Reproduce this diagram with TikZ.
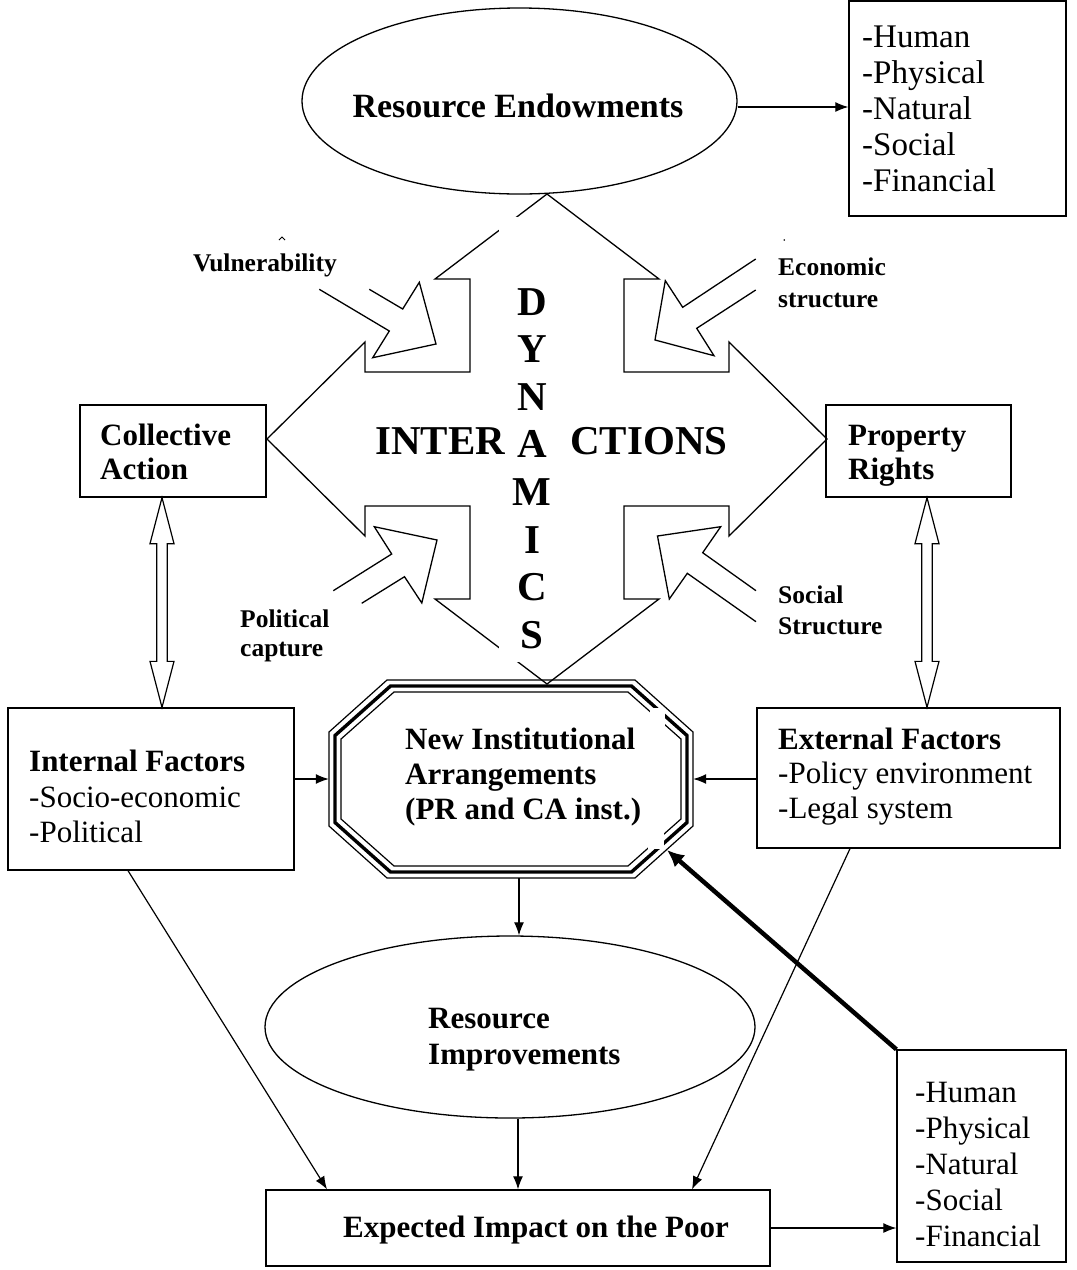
\documentclass[tikz,border=0pt]{standalone}
\usepackage{fontspec}
\setmainfont{Liberation Serif}
\usetikzlibrary{shapes.geometric,arrows.meta,calc}
\begin{document}
\begin{tikzpicture}[x=1pt,y=-1pt,
  ln/.style={line width=1.3pt},
  arr/.style={line width=1.2pt,-{Latex[length=13pt,width=10pt]}},
  box/.style={draw,line width=1.3pt,inner sep=0},
  txt/.style={inner sep=0,anchor=base west,font=\fontsize{31}{36}\selectfont},
  ttxt/.style={inner sep=0,anchor=base west,font=\fontsize{33}{36}\selectfont},
  btxt/.style={inner sep=0,anchor=base west,font=\fontsize{31}{36}\selectfont\bfseries},
  stxt/.style={inner sep=0,anchor=base west,font=\fontsize{25.5}{30}\selectfont\bfseries},
  big/.style={inner sep=0,font=\fontsize{41}{48}\selectfont\bfseries},
  blk/.style={line width=1.3pt,line join=miter},
  hollow/.style={line width=1.2pt,line join=miter,fill=white}
]
\useasboundingbox (0,0) rectangle (1077,1270);

% ---------- top: resource endowments ----------
\node[draw,ellipse,ln,minimum width=435pt,minimum height=186pt,inner sep=0] (re) at (519.5,101) {};
\node[inner sep=0,anchor=base,font=\fontsize{34}{40}\selectfont\bfseries] (ret) at (518,117) {Resource Endowments};
\node[box,minimum width=217pt,minimum height=215pt] (tr) at (957.5,108.5) {};
\node[ttxt] (tr1) at (862,47) {-Human};
\node[ttxt] (tr2) at (862,83) {-Physical};
\node[ttxt] (tr3) at (862,119) {-Natural};
\node[ttxt] (tr4) at (862,155) {-Social};
\node[ttxt] (tr5) at (862,191) {-Financial};
\coordinate (reA) at ([yshift=-6pt]re.east);
\draw[arr] (reA) -- (reA -| tr.west);

% ---------- central cross ----------
\draw[blk] (547,194) -- (659,279) -- (624,279) -- (624,372) -- (729,372) -- (729,342)
  -- (827,439) -- (729,536) -- (729,506) -- (624,506) -- (624,599) -- (659,599)
  -- (547,684) -- (435,599) -- (470,599) -- (470,506) -- (365,506) -- (365,536)
  -- (267,439) -- (365,342) -- (365,372) -- (470,372) -- (470,279) -- (435,279) -- cycle;
\fill[white] (499,217) rectangle (568,662);

% inward block arrows
\draw[blk] (319.3,289.3) -- (389.3,331) -- (372.7,357.7) -- (436,344) -- (419.3,282.3) -- (402.7,309) -- (369.3,289.3);
\draw[blk] (755.7,259) -- (682.7,307.3) -- (665.3,280.7) -- (655,340) -- (714,355.7) -- (696.7,328.3) -- (755.7,290);
\draw[blk] (333.3,590.7) -- (391.7,554) -- (374.3,526.7) -- (437,540) -- (421.8,603) -- (404.5,576.7) -- (361.7,603.3);
\draw[blk] (756,590.7) -- (702.7,552.7) -- (720.7,526.7) -- (657.5,536) -- (669.3,599) -- (687.3,573.3) -- (756,621.7);

% labels of block arrows
\draw[line width=0.8pt] (279,240) -- (282,237) -- (285,240);
\fill (784.3,240) circle (0.9);
\node[stxt] (vul) at (193,271) {Vulnerability};
\node[stxt] (eco1) at (778,275) {Economic};
\node[stxt] (eco2) at (778,307) {structure};
\node[stxt] (pol1) at (240,627) {Political};
\node[stxt] (pol2) at (240,656) {capture};
\node[stxt] (soc1) at (778,603) {Social};
\node[stxt] (soc2) at (778,634) {Structure};

% INTERACTIONS / DYNAMICS
\node[big,anchor=base west] (int1) at (375,454) {INTER};
\node[big,anchor=base west] (int2) at (570,454) {CTIONS};
\foreach \l/\yy [count=\i] in {D/315,Y/362.6,N/410.2,A/457.8,M/505.4,I/553,C/600.6,S/648.2}
  \node[big,anchor=base] (dyn\i) at (532,\yy) {\l};

% ---------- side boxes ----------
\node[box,minimum width=186pt,minimum height=92pt] (ca) at (173,451) {};
\node[btxt] (ca1) at (100,445) {Collective};
\node[btxt] (ca2) at (100,479) {Action};
\node[box,minimum width=185pt,minimum height=92pt] (pr) at (918.5,451) {};
\node[btxt] (pr1) at (848,445) {Property};
\node[btxt] (pr2) at (848,479) {Rights};

\node[box,minimum width=286pt,minimum height=162pt] (if) at (151,789) {};
\node[btxt] (if1) at (29,771) {Internal Factors};
\node[txt] (if2) at (29,807) {-Socio-economic};
\node[txt] (if3) at (29,842) {-Political};
\node[box,minimum width=303pt,minimum height=140pt] (ef) at (908.5,778) {};
\node[btxt] (ef1) at (778,749) {External Factors};
\node[txt] (ef2) at (778,783) {-Policy environment};
\node[txt] (ef3) at (778,818) {-Legal system};

% hollow double arrows
\coordinate (LT) at ([xshift=-11pt]ca.south);
\coordinate (LB) at ([xshift=11pt]if.north);
\draw[hollow] (LT) -- ($(LT)+(12,46)$) -- ($(LT)+(5.3,46)$) -- ($(LB)+(5.3,-46)$) -- ($(LB)+(12,-46)$)
  -- (LB) -- ($(LB)+(-12,-46)$) -- ($(LB)+(-5.3,-46)$) -- ($(LT)+(-5.3,46)$) -- ($(LT)+(-12,46)$) -- cycle;
\coordinate (RT) at ([xshift=8.5pt]pr.south);
\coordinate (RB) at ([xshift=18.5pt]ef.north);
\draw[hollow] (RT) -- ($(RT)+(12,46)$) -- ($(RT)+(5.3,46)$) -- ($(RB)+(5.3,-46)$) -- ($(RB)+(12,-46)$)
  -- (RB) -- ($(RB)+(-12,-46)$) -- ($(RB)+(-5.3,-46)$) -- ($(RT)+(-5.3,46)$) -- ($(RT)+(-12,46)$) -- cycle;

% ---------- octagon ----------
\node[minimum width=364pt,minimum height=198pt,inner sep=0] (nia) at (511,779) {};
\foreach \d/\w in {0/1.2,6/3.4,12/1.2}{
  \pgfmathsetmacro\cxx{58-0.414*\d}
  \pgfmathsetmacro\cyy{52-0.414*\d}
  \draw[line width=\w pt,line join=miter] (329+\d+\cxx,680+\d) -- (693-\d-\cxx,680+\d) -- (693-\d,680+\d+\cyy)
    -- (693-\d,878-\d-\cyy) -- (693-\d-\cxx,878-\d) -- (329+\d+\cxx,878-\d) -- (329+\d,878-\d-\cyy)
    -- (329+\d,680+\d+\cyy) -- cycle;
}
\fill[white] (650,708) rectangle (665,731);
\fill[white] (648,828) rectangle (664,849);
\node[btxt] (n1) at (405,749) {New Institutional};
\node[btxt] (n2) at (405,784) {Arrangements};
\node[btxt] (n3) at (405,819) {(PR and CA inst.)};
\draw[arr] (nia.west -| if.east) -- (nia.west);
\draw[arr] (nia.east -| ef.west) -- (nia.east);

% ---------- lower part ----------
\node[draw,ellipse,ln,minimum width=490pt,minimum height=182pt,inner sep=0] (ri) at (510,1027) {};
\node[btxt] (ri1) at (428,1028) {Resource};
\node[btxt] (ri2) at (428,1064) {Improvements};
\node[box,minimum width=504pt,minimum height=76pt] (ei) at (518,1228) {};
\node[btxt,anchor=base] (ei1) at (536,1237) {Expected Impact on the Poor};
\node[box,minimum width=169pt,minimum height=212pt] (br) at (981.5,1156) {};
\node[txt] (br1) at (915,1102) {-Human};
\node[txt] (br2) at (915,1138) {-Physical};
\node[txt] (br3) at (915,1174) {-Natural};
\node[txt] (br4) at (915,1210) {-Social};
\node[txt] (br5) at (915,1246) {-Financial};

\coordinate (niaS) at ([xshift=8pt]nia.south);
\draw[arr] (niaS) -- (niaS |- ri.north);
\coordinate (riS) at ([xshift=8pt]ri.south);
\draw[arr] (riS) -- (riS |- ei.north);
\draw[arr] ([xshift=-23pt]if.south) -- ([xshift=-191pt]ei.north);
\draw[arr] ([xshift=-58.5pt]ef.south) -- ([xshift=174pt]ei.north);
\draw[arr] (ei.east) -- (ei.east -| br.west);
\coordinate (niaSE) at (667,850);
\draw[line width=4.5pt,-{Latex[length=17pt,width=16pt]}] (br.north west) -- (niaSE);
\end{tikzpicture}
\end{document}
